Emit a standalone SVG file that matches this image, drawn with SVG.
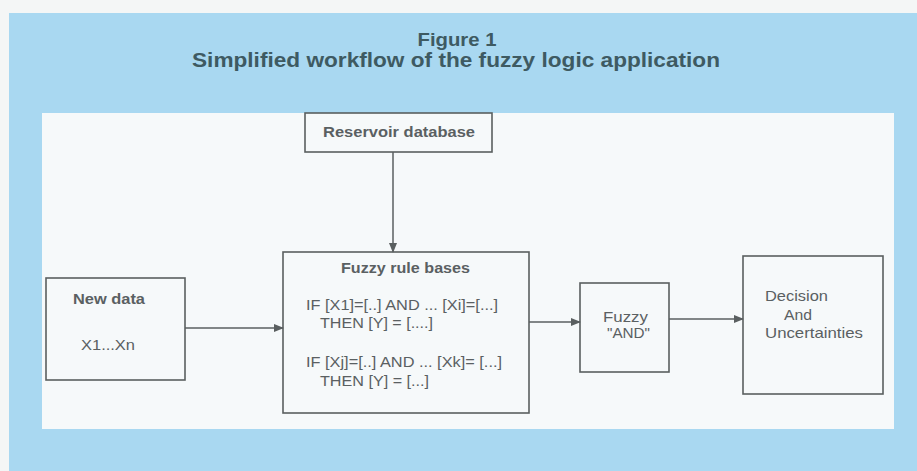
<svg xmlns="http://www.w3.org/2000/svg" width="917" height="471" viewBox="0 0 917 471">
<style>
.box{fill:none;stroke:#5a5f60;stroke-width:1.6}
.ln{stroke:#5a5f60;stroke-width:1.5;fill:none}
.t{font-family:"Liberation Sans",Arial,sans-serif;fill:#5a6062}
.b{font-weight:bold}
.title{font-family:"Liberation Sans",Arial,sans-serif;font-weight:bold;fill:#3e5a62;text-anchor:middle}
</style>
<defs>
<marker id="ah" markerWidth="10" markerHeight="8" refX="9" refY="4" orient="auto" markerUnits="userSpaceOnUse">
<path d="M0,0 L10,4 L0,8 Z" fill="#5a5f60"/>
</marker>
</defs>
<rect x="0" y="0" width="917" height="471" fill="#f4f6f6"/>
<rect x="9" y="13" width="908" height="458" fill="#a9d8f1"/>
<rect x="42" y="113" width="852" height="316" fill="#f6f9fa"/>
<g id="title">
<text class="title" x="457" y="46" font-size="18.5" textLength="79" lengthAdjust="spacingAndGlyphs">Figure 1</text>
<text class="title" x="456" y="67" font-size="20" textLength="528" lengthAdjust="spacingAndGlyphs">Simplified workflow of the fuzzy logic application</text>
</g>
<g id="connectors">
<line class="ln" x1="393" y1="152" x2="393" y2="252" marker-end="url(#ah)"/>
<line class="ln" x1="185" y1="328" x2="283" y2="328" marker-end="url(#ah)"/>
<line class="ln" x1="529" y1="322" x2="580" y2="322" marker-end="url(#ah)"/>
<line class="ln" x1="669" y1="319" x2="743" y2="319" marker-end="url(#ah)"/>
</g>
<g id="reservoir">
<rect class="box" x="305" y="113" width="187" height="39"/>
<text class="t b" x="323" y="137" font-size="15" textLength="152" lengthAdjust="spacingAndGlyphs">Reservoir database</text>
</g>
<g id="rules">
<rect class="box" x="283" y="252" width="246" height="161"/>
<text class="t b" x="341" y="273" font-size="15" textLength="129" lengthAdjust="spacingAndGlyphs">Fuzzy rule bases</text>
<text class="t" x="306" y="310" font-size="15.5" textLength="192" lengthAdjust="spacingAndGlyphs">IF [X1]=[..] AND ... [Xi]=[...]</text>
<text class="t" x="320" y="328" font-size="15.5" textLength="113" lengthAdjust="spacingAndGlyphs">THEN [Y] = [....]</text>
<text class="t" x="306" y="367" font-size="15.5" textLength="196" lengthAdjust="spacingAndGlyphs">IF [Xj]=[..] AND ... [Xk]= [...]</text>
<text class="t" x="320" y="386" font-size="15.5" textLength="109" lengthAdjust="spacingAndGlyphs">THEN [Y] = [...]</text>
</g>
<g id="newdata">
<rect class="box" x="46" y="278" width="139" height="102"/>
<text class="t b" x="73" y="304" font-size="15.5" textLength="72" lengthAdjust="spacingAndGlyphs">New data</text>
<text class="t" x="81" y="350" font-size="15.5" textLength="54" lengthAdjust="spacingAndGlyphs">X1...Xn</text>
</g>
<g id="fuzzyand">
<rect class="box" x="580" y="283" width="89" height="89"/>
<text class="t" x="603" y="322" font-size="14" textLength="45" lengthAdjust="spacingAndGlyphs">Fuzzy</text>
<text class="t" x="607" y="338" font-size="14" textLength="43" lengthAdjust="spacingAndGlyphs">"AND"</text>
</g>
<g id="decision">
<rect class="box" x="743" y="256" width="140" height="138"/>
<text class="t" x="765" y="301" font-size="15" textLength="63" lengthAdjust="spacingAndGlyphs">Decision</text>
<text class="t" x="784" y="320" font-size="15" textLength="28" lengthAdjust="spacingAndGlyphs">And</text>
<text class="t" x="765" y="338" font-size="15" textLength="98" lengthAdjust="spacingAndGlyphs">Uncertainties</text>
</g>
</svg>
